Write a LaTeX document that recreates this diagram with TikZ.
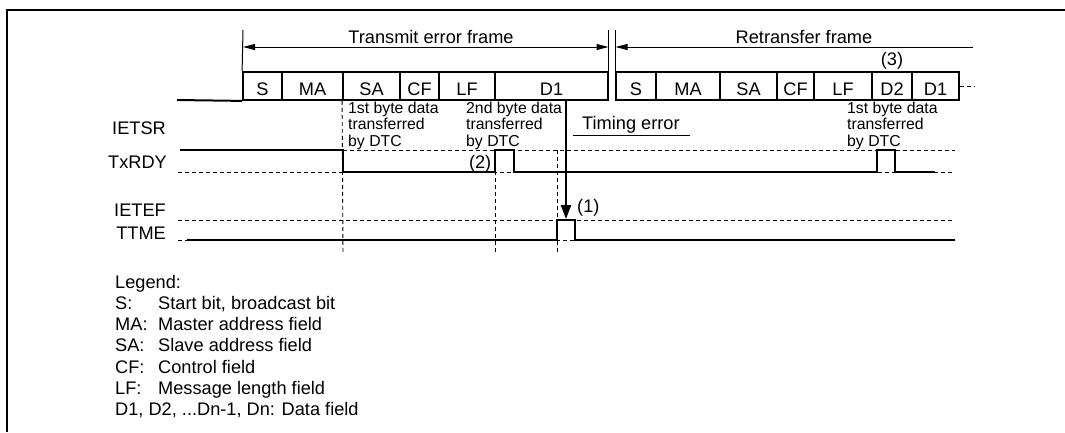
\documentclass[tikz,border=0pt]{standalone}
\usepackage{fontspec}
\setmainfont{Liberation Sans}
\usetikzlibrary{arrows.meta}
\begin{document}
\begin{tikzpicture}[x=1pt,y=-1pt,
  every node/.style={inner sep=0pt, text=black},
  big/.style={font=\fontsize{18.2}{21}\selectfont},
  small/.style={font=\fontsize{15.8}{16.4}\selectfont, align=left},
  field/.style={draw, line width=1.8pt, minimum height=28pt, text height=19pt, text depth=0pt, font=\fontsize{18.2}{21}\selectfont},
  sig/.style={line width=2pt, line join=miter, line cap=butt},
  guide/.style={line width=0.9pt, dash pattern=on 4pt off 3pt},
  thinline/.style={line width=1pt},
  dimarrow/.style={line width=1pt, {Triangle[length=12pt,width=6pt]}-{Triangle[length=12pt,width=6pt]}},
  leftarrow/.style={line width=1pt, {Triangle[length=12pt,width=6pt]}-},
  errarrow/.style={line width=2.2pt, -{Triangle[length=14pt,width=10pt]}}
]
\useasboundingbox (0,0) rectangle (1065,432);
% border
\draw[line width=2.4pt] (7,432) -- (7,10) -- (1066,10);

% ---------------- frame fields ----------------
\node[field, minimum width=39pt]  (tS)  at (262.5,86) {S};
\node[field, minimum width=61pt]  (tMA) at (312.5,86) {MA};
\node[field, minimum width=57pt]  (tSA) at (371.5,86) {SA};
\node[field, minimum width=39pt]  (tCF) at (419.5,86) {CF};
\node[field, minimum width=56pt]  (tLF) at (467,86)   {LF};
\node[field, minimum width=113pt] (tD1) at (551.5,86) {D1};

\node[field, minimum width=40pt]  (rS)  at (636,86)   {S};
\node[field, minimum width=64pt]  (rMA) at (688,86)   {MA};
\node[field, minimum width=57pt]  (rSA) at (748.5,86) {SA};
\node[field, minimum width=37pt]  (rCF) at (795.5,86) {CF};
\node[field, minimum width=58pt]  (rLF) at (843,86)   {LF};
\node[field, minimum width=40pt]  (rD2) at (892,86)   {D2};
\node[field, minimum width=47pt]  (rD1) at (935.5,86) {D1};

% base line before the frame
\coordinate (base0) at (177,100);
\draw[sig] (base0) -- (tS.south west);
% continuation after retransfer frame
\coordinate (cont) at (974,86);
\draw[guide] (rD1.east) -- (cont);

% ---------------- frame extents ----------------
\coordinate (tTop)  at (243,30);
\coordinate (tEnd)  at (608.5,30);
\coordinate (rTop)  at (615.5,30);
\draw[thinline] (tTop) -- (tS.north west);
\draw[thinline] (tEnd) -- (608.5,100);
\draw[thinline] (rTop) -- (615.5,100);

\coordinate (tArrL) at (243,47);
\coordinate (tArrR) at (608.5,47);
\coordinate (rArrL) at (615.5,47);
\coordinate (rArrR) at (973,47);
\draw[dimarrow] (tArrL) -- (tArrR);
\draw[leftarrow] (rArrL) -- (rArrR);

\node[big, anchor=base] (tTitle) at (431,43.5) {Transmit error frame};
\node[big, anchor=base] (rTitle) at (804,43.5) {Retransfer frame};
\node[big, anchor=base] (n3) at (892,65) {(3)};

% ---------------- signal labels ----------------
\node[big, anchor=base east] (lIETSR) at (166,134) {IETSR};
\node[big, anchor=base east] (lTxRDY) at (167,168) {TxRDY};
\node[big, anchor=base east] (lIETEF) at (166,216) {IETEF};
\node[big, anchor=base east] (lTTME)  at (166,239) {TTME};

% ---------------- DTC notes ----------------
\node[small, anchor=north west] (dtc1) at (348,101.8) {1st byte data\\transferred\\by DTC};
\node[small, anchor=north west] (dtc2) at (466,101.8) {2nd byte data\\transferred\\by DTC};
\node[small, anchor=north west] (dtc3) at (847,101.8) {1st byte data\\transferred\\by DTC};

\node[big, anchor=base west] (terr) at (582,129.5) {Timing error};
\coordinate (ulA) at (573,135.5);
\coordinate (ulB) at (690,135.5);
\draw[thinline] (ulA) -- (ulB);

\node[big, anchor=base east] (n2) at (491.5,168) {(2)};
\node[big, anchor=base west] (n1) at (577,212.5) {(1)};

% ---------------- guide lines ----------------
\draw[guide] (178,172) -- (955,172);
\draw[guide] (343,150) -- (955,150);
\draw[guide] (178,220) -- (955,220);
\draw[guide] (178,240) -- (955,240);
\draw[guide] (tSA.south west) -- (343,254);
\draw[guide] (495,150) -- (495,254);
\draw[guide] (557,150) -- (557,254);

% ---------------- waveforms ----------------
\draw[sig] (180,150) -- (343,150) -- (343,172) -- (495,172) -- (495,150)
  -- (514,150) -- (514,172) -- (877,172) -- (877,150) -- (895,150)
  -- (895,172) -- (935,172);
\draw[sig] (187,240) -- (557,240) -- (557,220) -- (575,220) -- (575,240) -- (955,240);

% timing error arrow
\coordinate (errTip) at (566,219);
\draw[errarrow] (errTip |- tD1.south) -- (errTip);

% ---------------- legend ----------------
\node[big, anchor=base west] (leg0) at (115,288) {Legend:};
\node[big, anchor=base west] (leg1) at (115,309.3) {\makebox[43pt][l]{S:}Start bit, broadcast bit};
\node[big, anchor=base west] (leg2) at (115,330.6) {\makebox[43pt][l]{MA:}Master address field};
\node[big, anchor=base west] (leg3) at (115,351.9) {\makebox[43pt][l]{SA:}Slave address field};
\node[big, anchor=base west] (leg4) at (115,373.2) {\makebox[43pt][l]{CF:}Control field};
\node[big, anchor=base west] (leg5) at (115,394.5) {\makebox[43pt][l]{LF:}Message length field};
\node[big, anchor=base west] (leg6) at (115,415.8) {D1, D2, ...Dn-1, Dn: Data field};
\end{tikzpicture}
\end{document}
